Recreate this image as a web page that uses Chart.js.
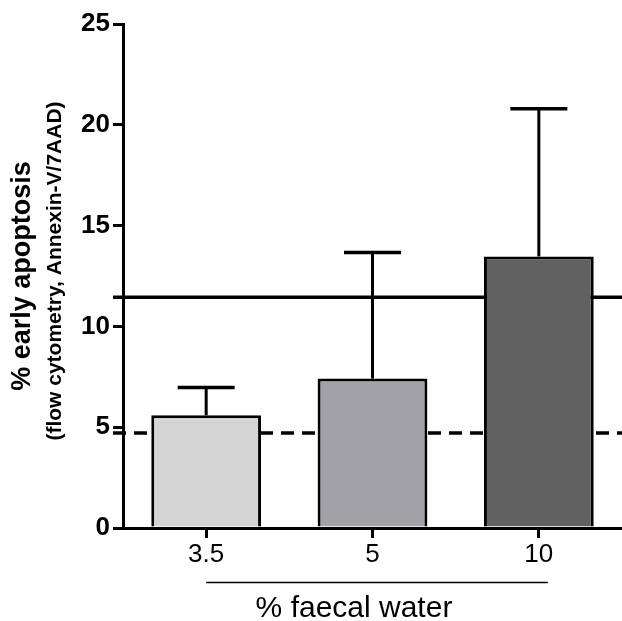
<!DOCTYPE html>
<html>
<head>
<meta charset="utf-8">
<script src="https://cdn.jsdelivr.net/npm/chart.js@4.4.0/dist/chart.umd.min.js"></script>
<style>
  html, body { margin: 0; padding: 0; background: #fff; }
  canvas { display: block; }
</style>
</head>
<body>
<canvas id="grafico" width="622" height="621"></canvas>
<script>
// datos
const categorias = ['3.5', '5', '10'];
const medias = [5.59, 7.41, 13.47];
const errores = [1.38, 6.26, 7.33];
const lineaSolida = [11.44];
const lineaDiscontinua = [4.71];
const ticksY = [0, 5, 10, 15, 20, 25];

const tituloY = '% early apoptosis';
const subtituloY = '(flow cytometry, Annexin-V/7AAD)';
const tituloX = '% faecal water';

// colores y fuente
const colores = ['#d4d4d4', '#a2a1a6', '#616161'];
const fuente = "'Liberation Sans', Arial, sans-serif";

// lineas horizontales de referencia (detras de las barras)
const lineasReferencia = {
  id: 'lineasReferencia',
  beforeDatasetsDraw(chart) {
    const { ctx, chartArea, scales: { y } } = chart;
    const x0 = chartArea.left - 10;
    ctx.save();
    ctx.strokeStyle = '#000';
    ctx.lineWidth = 3.5;
    lineaSolida.forEach(v => {
      const py = y.getPixelForValue(v);
      ctx.beginPath(); ctx.moveTo(x0, py); ctx.lineTo(chartArea.right, py); ctx.stroke();
    });
    ctx.setLineDash([13, 8]);
    lineaDiscontinua.forEach(v => {
      const py = y.getPixelForValue(v);
      ctx.beginPath(); ctx.moveTo(x0, py); ctx.lineTo(chartArea.right, py); ctx.stroke();
    });
    ctx.restore();
  }
};

// barras de error (solo hacia arriba)
const barrasError = {
  id: 'barrasError',
  afterDatasetsDraw(chart) {
    const { ctx, scales: { y } } = chart;
    const meta = chart.getDatasetMeta(0);
    ctx.save();
    ctx.strokeStyle = '#000';
    meta.data.forEach((bar, i) => {
      const arriba = y.getPixelForValue(medias[i] + errores[i]);
      ctx.lineWidth = 3;
      ctx.beginPath(); ctx.moveTo(bar.x, bar.y); ctx.lineTo(bar.x, arriba); ctx.stroke();
      ctx.lineWidth = 3.5;
      ctx.beginPath(); ctx.moveTo(bar.x - 28.5, arriba); ctx.lineTo(bar.x + 28.5, arriba); ctx.stroke();
    });
    ctx.restore();
  }
};

// titulos de los ejes y la linea bajo las etiquetas
const titulos = {
  id: 'titulos',
  afterDraw(chart) {
    const { ctx, scales: { x } } = chart;
    ctx.save();
    ctx.fillStyle = '#000';
    ctx.textAlign = 'center';
    ctx.textBaseline = 'middle';

    ctx.save();
    ctx.translate(23, 276);
    ctx.rotate(-Math.PI / 2);
    ctx.font = 'bold 27px ' + fuente;
    ctx.fillText(tituloY, 0, 0);
    ctx.restore();

    ctx.save();
    ctx.translate(55, 271);
    ctx.rotate(-Math.PI / 2);
    ctx.font = 'bold 21px ' + fuente;
    ctx.fillText(subtituloY, 0, 0);
    ctx.restore();

    ctx.strokeStyle = '#000';
    ctx.lineWidth = 1.5;
    ctx.beginPath();
    ctx.moveTo(x.getPixelForTick(0), 582.5);
    ctx.lineTo(x.getPixelForTick(2) + 9, 582.5);
    ctx.stroke();

    ctx.textBaseline = 'alphabetic';
    ctx.font = '30px ' + fuente;
    ctx.fillText(tituloX, 354, 617);
    ctx.restore();
  }
};

const config = {
  type: 'bar',
  data: {
    labels: categorias,
    datasets: [{
      data: medias,
      backgroundColor: colores,
      borderColor: '#000',
      borderWidth: 3,
      borderSkipped: 'bottom',
      barPercentage: 0.66,
      categoryPercentage: 1
    }]
  },
  options: {
    responsive: false,
    animation: false,
    events: [],
    layout: { padding: { top: 24, right: 0, left: 0, bottom: 0 } },
    plugins: { legend: { display: false }, tooltip: { enabled: false } },
    scales: {
      x: {
        afterFit: s => { s.height = 93; },
        border: { color: '#000', width: 3 },
        grid: { offset: false, drawOnChartArea: false, drawTicks: true, tickLength: 10, lineWidth: 3, color: '#000' },
        ticks: { color: '#000', font: { family: fuente, size: 26 }, padding: 1, maxRotation: 0, autoSkip: false }
      },
      y: {
        min: 0,
        max: 25,
        afterFit: s => { s.width = 123; },
        afterBuildTicks: s => { s.ticks = ticksY.map(v => ({ value: v })); },
        border: { color: '#000', width: 3 },
        grid: { drawOnChartArea: false, drawTicks: true, tickLength: 10, lineWidth: 3, color: '#000' },
        ticks: { color: '#000', font: { family: fuente, size: 26, weight: 'bold' }, padding: 3 }
      }
    }
  },
  plugins: [lineasReferencia, barrasError, titulos]
};

new Chart(document.getElementById('grafico'), config);
</script>
</body>
</html>
